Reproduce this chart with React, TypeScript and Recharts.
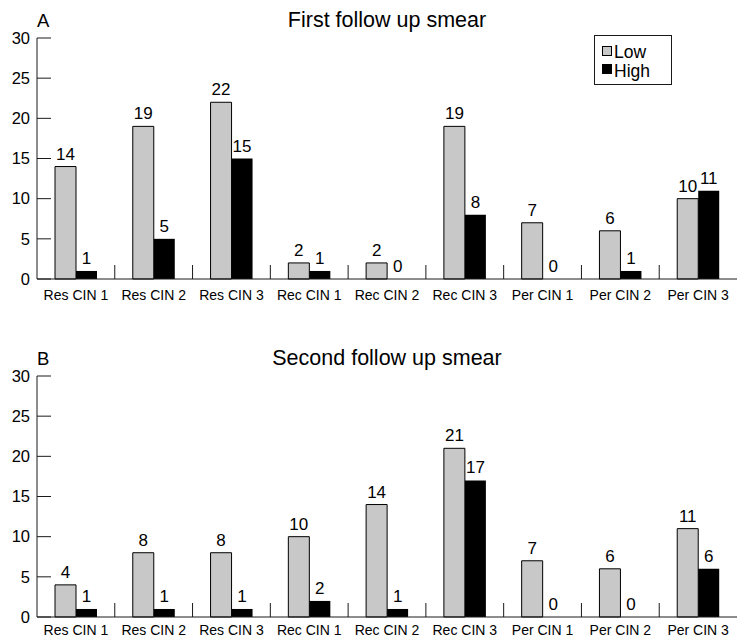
import { BarChart, Bar, XAxis, YAxis, LabelList, Legend } from 'recharts';

const categories = ['Res CIN 1', 'Res CIN 2', 'Res CIN 3', 'Rec CIN 1', 'Rec CIN 2', 'Rec CIN 3', 'Per CIN 1', 'Per CIN 2', 'Per CIN 3'];
const firstLow = [14, 19, 22, 2, 2, 19, 7, 6, 10];
const firstHigh = [1, 5, 15, 1, 0, 8, 0, 1, 11];
const secondLow = [4, 8, 8, 10, 14, 21, 7, 6, 11];
const secondHigh = [1, 1, 1, 2, 1, 17, 0, 0, 6];
const yTicks = [0, 5, 10, 15, 20, 25, 30];

const FONT = '"Liberation Sans", Arial, Helvetica, sans-serif';
const GREY = '#c8c8c8';
const INK = '#1a1a1a';

// category labels + the small upward separators between groups
function CatTick(props: any) {
  const { x, y, payload, index, drop } = props;
  const half = payload && payload.offset ? payload.offset : 700 / 9 / 2;
  return (
    <g>
      {index > 0 && <line x1={x - half} x2={x - half} y1={y - 14} y2={y} stroke={INK} strokeWidth={1} />}
      <text x={x} y={y + drop} textAnchor="middle" fontSize={14} fontFamily={FONT} fill="#000">
        {payload.value}
      </text>
    </g>
  );
}

// value ticks point into the plot
function ValTick(props: any) {
  const { x, y, payload } = props;
  return (
    <g>
      <line x1={x} x2={x + 14} y1={y} y2={y} stroke={INK} strokeWidth={1} />
      <text x={x - 7} y={y} dy="0.35em" textAnchor="end" fontSize={16.5} fontFamily={FONT} fill="#000">
        {payload.value}
      </text>
    </g>
  );
}

function LegendBox() {
  return (
    <svg width={78} height={50}>
      <rect x={0.5} y={0.5} width={77} height={49} fill="#fff" stroke={INK} />
      <rect x={8.5} y={11.5} width={9} height={9} fill={GREY} stroke="#000" />
      <text x={20} y={23} fontSize={17.5} fontFamily={FONT} fill="#000">Low</text>
      <rect x={8} y={29} width={10} height={10} fill="#000" />
      <text x={20} y={41.5} fontSize={17.5} fontFamily={FONT} fill="#000">High</text>
    </svg>
  );
}

function Panel({ letter, title, low, high, legend, height, drop }: { letter: string; title: string; low: number[]; high: number[]; legend?: boolean; height: number; drop: number }) {
  const data = categories.map((name, i) => ({ name, low: low[i], high: high[i] }));
  return (
    <BarChart
      width={737}
      height={height}
      data={data}
      margin={{ top: 38, right: 0, bottom: height - 301, left: 0 }}
      barGap={0}
      barSize={21}
      style={{ overflow: 'visible' }}
    >
      <text x={37} y={27} fontSize={18.5} fontFamily={FONT} fill="#000">{letter}</text>
      <text x={387} y={27} textAnchor="middle" fontSize={21.5} fontFamily={FONT} fill="#000">{title}</text>
      <XAxis
        dataKey="name"
        height={22}
        tickLine={false}
        tickSize={0}
        tickMargin={0}
        interval={0}
        axisLine={{ stroke: INK }}
        tick={<CatTick drop={drop} />}
      />
      <YAxis
        width={37}
        domain={[0, 30]}
        ticks={yTicks}
        interval={0}
        tickLine={false}
        tickSize={0}
        tickMargin={0}
        axisLine={{ stroke: INK }}
        tick={<ValTick />}
      />
      {legend && (
        <Legend
          layout="horizontal"
          verticalAlign="middle"
          align="center"
          content={() => <LegendBox />}
          wrapperStyle={{ position: 'absolute', left: 594, top: 35, width: 78, height: 50 }}
        />
      )}
      <Bar dataKey="low" name="Low" fill={GREY} stroke="#000" strokeWidth={1} isAnimationActive={false}>
        <LabelList dataKey="low" position="top" offset={7} fontSize={17} fontFamily={FONT} fill="#000" />
      </Bar>
      <Bar dataKey="high" name="High" fill="#000" minPointSize={0.01} isAnimationActive={false}>
        <LabelList dataKey="high" position="top" offset={7} fontSize={17} fontFamily={FONT} fill="#000" />
      </Bar>
    </BarChart>
  );
}

export default function App() {
  return (
    <div style={{ position: 'absolute', left: 0, top: 0, width: 737, height: 639, background: '#fff', overflow: 'hidden' }}>
      <div style={{ position: 'absolute', left: 0, top: 0 }}>
        <Panel letter="A" title="First follow up smear" low={firstLow} high={firstHigh} legend height={310} drop={21} />
      </div>
      <div style={{ position: 'absolute', left: 0, top: 338 }}>
        <Panel letter="B" title="Second follow up smear" low={secondLow} high={secondHigh} height={301} drop={18} />
      </div>
    </div>
  );
}
